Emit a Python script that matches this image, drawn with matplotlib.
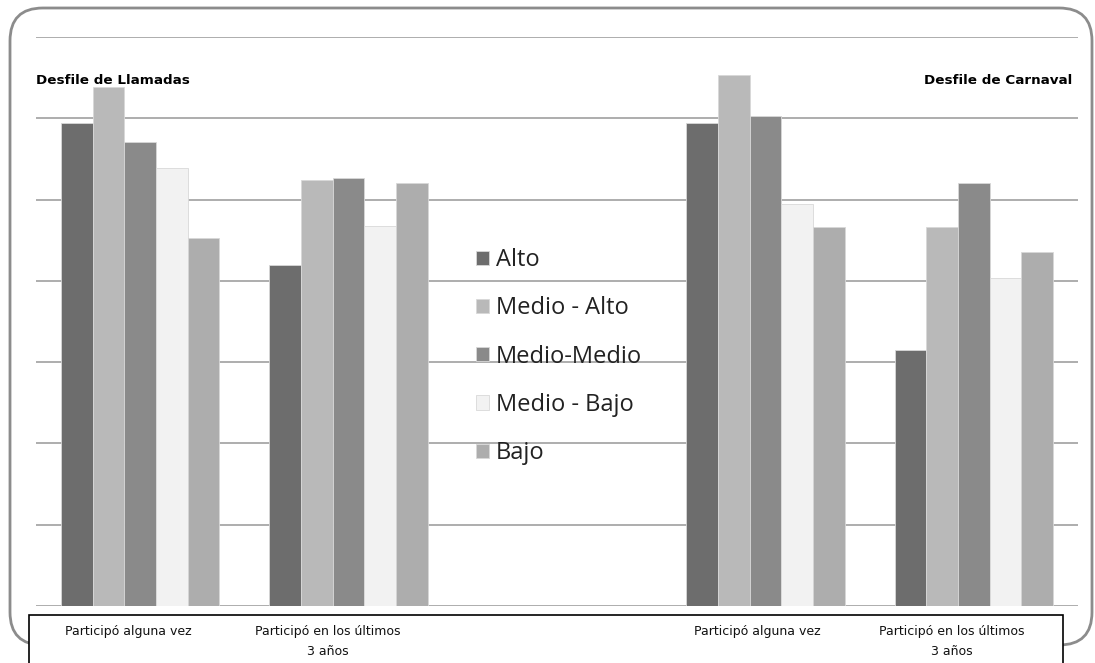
import matplotlib.pyplot as plt
import numpy as np
from matplotlib.patches import FancyBboxPatch, Rectangle
from matplotlib.transforms import ScaledTranslation

# Data (arbitrary units, grid every 10)
categories = ["Participó alguna vez", "Participó en los últimos\n3 años", "",
              "Participó alguna vez", "Participó en los últimos\n3 años"]
levels = ["Alto", "Medio - Alto", "Medio-Medio", "Medio - Bajo", "Bajo"]
alto = [59.4, 41.9, np.nan, 59.4, 31.5]
medio_alto = [63.8, 52.4, np.nan, 65.3, 46.6]
medio_medio = [57.1, 52.6, np.nan, 60.3, 52.0]
medio_bajo = [53.9, 46.7, np.nan, 49.4, 40.3]
bajo = [45.3, 52.1, np.nan, 46.6, 43.5]
series = [alto, medio_alto, medio_medio, medio_bajo, bajo]
colors = ["#6d6d6d", "#b9b9b9", "#8a8a8a", "#f2f2f2", "#adadad"]

W, H = 1095, 663
fig = plt.figure(figsize=(W / 100, H / 100), dpi=100)

# rounded outer frame
frame = FancyBboxPatch((10 / W, 1 - 645 / H), 1082 / W, 637 / H,
                       boxstyle="round,pad=0,rounding_size=0.03",
                       transform=fig.transFigure, facecolor="none",
                       edgecolor="#8c8c8c", linewidth=2, zorder=0,
                       mutation_aspect=W / H)
fig.patches.append(frame)

# label box under the axis
fig.patches.append(Rectangle((29 / W, -0.05), (1063 - 29) / W, 0.05 + (663 - 615) / H,
                             transform=fig.transFigure, facecolor="white",
                             edgecolor="black", linewidth=1.2, zorder=1))

ax = fig.add_axes([36 / W, 1 - 606 / H, (1078 - 36) / W, (606 - 37) / H])
ax.set_zorder(3)
ax.patch.set_alpha(0)

x = np.arange(len(categories))
width = 0.152
for i, (vals, c, name) in enumerate(zip(series, colors, levels)):
    ax.bar(x + (i - 2) * width, vals, width, color=c, label=name,
           edgecolor="#d8d8d8", linewidth=0.6, zorder=2)

ax.set_xlim(-0.5, 4.5)
ax.set_ylim(0, 70)
ax.set_yticks(np.arange(0, 71, 10))
ax.yaxis.grid(True, color="#a0a0a0", linewidth=1.2, zorder=1)
ax.set_axisbelow(True)
ax.tick_params(axis="y", length=0, labelleft=False)
for s in ["top", "right", "left", "bottom"]:
    ax.spines[s].set_visible(False)

lab_font = ["DejaVu Sans Condensed", "Liberation Sans Narrow", "DejaVu Sans"]
ax.set_xticks(x)
ax.set_xticklabels(categories, fontsize=9, family=lab_font, color="#111111",
                   linespacing=1.65)
ax.tick_params(axis="x", length=0, pad=14)
# labels in the table sit a little left of the group centres
for lbl, dx in zip(ax.get_xticklabels(), [-12, -21, 0, -8, -22]):
    lbl.set_transform(lbl.get_transform() + ScaledTranslation(dx / 100, 0, fig.dpi_scale_trans))

ax.text(0, 1 - (80 - 37) / (606 - 37), "Desfile de Llamadas", transform=ax.transAxes,
        fontsize=9.7, fontweight="bold", family=lab_font, va="center", ha="left")
ax.text(1 - 6 / (1078 - 36), 1 - (80 - 37) / (606 - 37), "Desfile de Carnaval",
        transform=ax.transAxes, fontsize=9.7, fontweight="bold", family=lab_font,
        va="center", ha="right")

leg = ax.legend(loc="upper left", bbox_to_anchor=(476 / W, 1 - 248 / H),
                bbox_transform=fig.transFigure, frameon=False,
                prop={"family": ["Open Sans", "DejaVu Sans"], "size": 17},
                handlelength=0.55, handleheight=0.55, handletextpad=0.3,
                labelspacing=1.03, borderpad=0, borderaxespad=0)
for t in leg.get_texts():
    t.set_color("#222222")

fig.savefig("out.png", dpi=100)
